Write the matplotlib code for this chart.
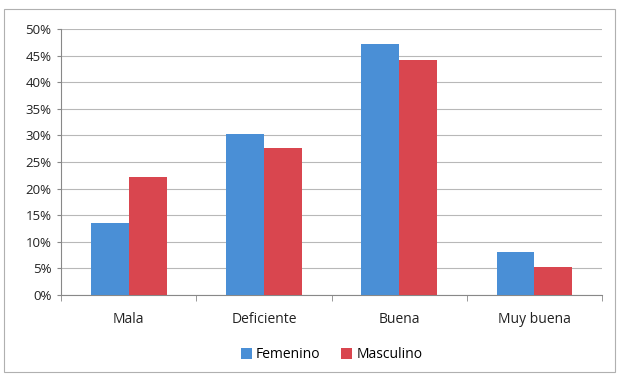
import matplotlib
matplotlib.use("Agg")
import matplotlib.pyplot as plt
import numpy as np
from matplotlib.patches import Rectangle

categories = ["Mala", "Deficiente", "Buena", "Muy buena"]
femenino = [13.6, 30.3, 47.2, 8.1]
masculino = [22.2, 27.7, 44.1, 5.2]
series_names = ["Femenino", "Masculino"]
yticks = [0, 5, 10, 15, 20, 25, 30, 35, 40, 45, 50]

plt.rcParams['font.family'] = ['Open Sans', 'DejaVu Sans']

fig = plt.figure(figsize=(6.17, 3.74), dpi=100)
fig.patch.set_facecolor('white')
fig.add_artist(Rectangle((0.006, 0.005), 0.99, 0.972, transform=fig.transFigure,
                         fill=False, edgecolor='#b0b0b0', linewidth=0.8))
ax = fig.add_axes([0.0989, 0.2112, 0.8768, 0.7112])

x = np.arange(len(categories))
w = 0.28
ax.bar(x - w/2, femenino, w, color='#4a8fd6', label=series_names[0], zorder=3)
ax.bar(x + w/2, masculino, w, color='#d9464f', label=series_names[1], zorder=3)

ax.set_xlim(-0.5, len(categories) - 0.5)
ax.set_ylim(0, 50)
ax.set_yticks(yticks)
ax.set_yticklabels([f"{t}%" for t in yticks], fontsize=9.5, color='#222222')
ax.yaxis.grid(True, color='#b8b8b8', linewidth=0.8, zorder=0)
ax.set_xticks(x)
ax.set_xticklabels(categories, fontsize=10, color='#222222')
ax.tick_params(axis='x', length=0, pad=12)
ax.set_xticks(np.arange(-0.5, len(categories)), minor=True)
ax.tick_params(axis='x', which='minor', length=4, color='#888888')
ax.tick_params(axis='y', length=3, color='#888888', pad=4)
for s in ['top', 'right']:
    ax.spines[s].set_visible(False)
ax.spines['left'].set_color('#888888')
ax.spines['bottom'].set_color('#888888')

ax.legend(loc='upper center', bbox_to_anchor=(0.5, -0.15), ncol=2, frameon=False,
          fontsize=10, handlelength=0.8, handleheight=0.8, handletextpad=0.3,
          columnspacing=1.5)

fig.savefig("out.png", dpi=100)
